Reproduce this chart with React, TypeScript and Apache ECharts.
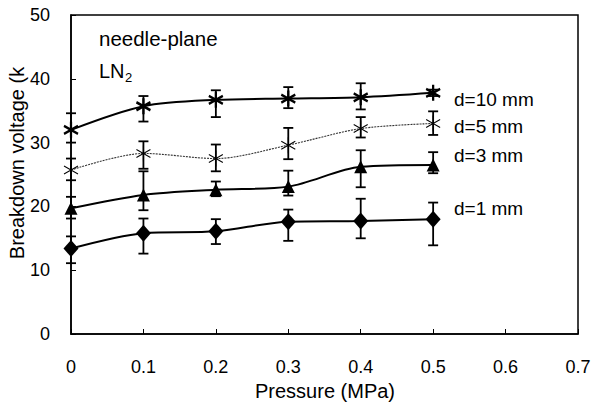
import React, { useEffect, useRef } from "react";
import * as echarts from "echarts";

const pressure = [0, 0.1, 0.2, 0.3, 0.4, 0.5];
const xTicks = [0, 0.1, 0.2, 0.3, 0.4, 0.5, 0.6, 0.7];

const d10 = [32.0, 35.7, 36.7, 36.9, 37.1, 37.8];
const d10Lo = [30.0, 33.3, 34.0, 35.4, 35.2, 37.3];
const d10Hi = [34.6, 37.3, 38.2, 38.7, 39.3, 38.3];

const d5 = [25.7, 28.3, 27.5, 29.6, 32.2, 33.0];
const d5Lo = [24.1, 25.9, 25.5, 27.4, 30.8, 31.2];
const d5Hi = [27.5, 30.2, 29.7, 32.3, 34.0, 34.9];

const d3 = [19.7, 21.8, 22.6, 23.1, 26.2, 26.5];
const d3Lo = [18.1, 19.4, 21.6, 21.7, 23.0, 25.2];
const d3Hi = [21.5, 25.5, 23.9, 25.6, 28.8, 28.5];

const d1 = [13.4, 15.8, 16.1, 17.6, 17.7, 18.0];
const d1Lo = [11.1, 12.6, 14.1, 14.6, 15.0, 13.9];
const d1Hi = [15.3, 18.1, 18.0, 19.5, 21.2, 20.6];

const seriesNames = ["d=10 mm", "d=5 mm", "d=3 mm", "d=1 mm"];

const FONT = "Liberation Sans, Arial, Helvetica, sans-serif";
const asterisk = "path://M0,-1L0,1M-0.866,-0.5L0.866,0.5M-0.866,0.5L0.866,-0.5";

function pts(ys: number[]) {
  return pressure.map((x, i) => [x, ys[i]]);
}
function errs(lo: number[], hi: number[]) {
  return pressure.map((x, i) => [x, lo[i], hi[i]]);
}

function errSeries(lo: number[], hi: number[]) {
  return {
    type: "custom",
    data: errs(lo, hi),
    encode: { x: 0, y: [1, 2] },
    z: 3,
    silent: true,
    renderItem: (params: any, api: any) => {
      const x = api.value(0);
      const p1 = api.coord([x, api.value(1)]);
      const p2 = api.coord([x, api.value(2)]);
      const w = 5;
      const st = { stroke: "#000", lineWidth: 1.8 };
      return {
        type: "group",
        children: [
          { type: "line", shape: { x1: p1[0], y1: p1[1], x2: p2[0], y2: p2[1] }, style: st },
          { type: "line", shape: { x1: p1[0] - w, y1: p1[1], x2: p1[0] + w, y2: p1[1] }, style: st },
          { type: "line", shape: { x1: p2[0] - w, y1: p2[1], x2: p2[0] + w, y2: p2[1] }, style: st },
        ],
      };
    },
  };
}

export default function App() {
  const ref = useRef<HTMLDivElement>(null);
  useEffect(() => {
    if (!ref.current) return;
    const chart = echarts.init(ref.current, undefined, { renderer: "svg" });
    const labelStyle = { fontFamily: FONT, fontSize: 19, fill: "#000", align: "left", verticalAlign: "middle" };
    chart.setOption({
      animation: false,
      backgroundColor: "#fff",
      textStyle: { fontFamily: FONT, color: "#000" },
      grid: {
        left: 71,
        right: 19,
        top: 15,
        bottom: 73,
        show: true,
        borderColor: "#000",
        borderWidth: 1.5,
        backgroundColor: "transparent",
      },
      xAxis: {
        type: "value",
        min: 0,
        max: 0.7,
        interval: 0.1,
        axisLine: { lineStyle: { color: "#000", width: 1.5 } },
        axisTick: { inside: true, length: 5, lineStyle: { color: "#000", width: 1 } },
        splitLine: { show: false },
        axisLabel: {
          margin: 24,
          fontSize: 18,
          fontFamily: FONT,
          color: "#000",
          formatter: (v: number) => {
            const t = xTicks.find((k) => Math.abs(k - v) < 1e-6);
            return t === undefined ? "" : String(t);
          },
        },
      },
      yAxis: {
        type: "value",
        min: 0,
        max: 50,
        interval: 10,
        axisLine: { show: true, lineStyle: { color: "#000", width: 1.5 } },
        axisTick: { show: true, inside: true, length: 5, lineStyle: { color: "#000", width: 1 } },
        splitLine: { show: false },
        axisLabel: { margin: 21, fontSize: 18, fontFamily: FONT, color: "#000" },
      },
      series: [
        errSeries(d10Lo, d10Hi),
        errSeries(d5Lo, d5Hi),
        errSeries(d3Lo, d3Hi),
        errSeries(d1Lo, d1Hi),
        {
          name: seriesNames[0],
          type: "line",
          data: pts(d10),
          smooth: 0.3,
          symbol: asterisk,
          symbolSize: [14, 16],
          itemStyle: { color: "none", borderColor: "#000", borderWidth: 2.4 },
          lineStyle: { color: "#000", width: 2 },
          z: 4,
        },
        {
          name: seriesNames[1],
          type: "line",
          data: pts(d5),
          smooth: 0.3,
          symbol: asterisk,
          symbolSize: [14, 16],
          itemStyle: { color: "none", borderColor: "#000", borderWidth: 1.1 },
          lineStyle: { color: "#333", width: 1.1, type: [2, 1] },
          z: 4,
        },
        {
          name: seriesNames[2],
          type: "line",
          data: pts(d3),
          smooth: 0.3,
          symbol: "triangle",
          symbolSize: [13, 13],
          itemStyle: { color: "#000" },
          lineStyle: { color: "#000", width: 2 },
          z: 4,
        },
        {
          name: seriesNames[3],
          type: "line",
          data: pts(d1),
          smooth: 0.3,
          symbol: "diamond",
          symbolSize: [15, 17],
          itemStyle: { color: "#000" },
          lineStyle: { color: "#000", width: 2 },
          z: 4,
        },
      ],
      graphic: [
        {
          type: "text",
          x: 17,
          y: 163,
          rotation: Math.PI / 2,
          style: {
            text: "Breakdown voltage (k",
            fontFamily: FONT,
            fontSize: 20,
            fill: "#000",
            align: "center",
            verticalAlign: "middle",
          },
        },
        {
          type: "text",
          x: 325,
          y: 391,
          style: { text: "Pressure (MPa)", fontFamily: FONT, fontSize: 20, fill: "#000", align: "center", verticalAlign: "middle" },
        },
        {
          type: "text",
          x: 99,
          y: 38,
          style: { text: "needle-plane", fontFamily: FONT, fontSize: 20.5, fill: "#000", align: "left", verticalAlign: "middle" },
        },
        {
          type: "text",
          x: 99,
          y: 71,
          style: { text: "LN", fontFamily: FONT, fontSize: 20, fill: "#000", align: "left", verticalAlign: "middle" },
        },
        {
          type: "text",
          x: 125,
          y: 77,
          style: { text: "2", fontFamily: FONT, fontSize: 13, fill: "#000", align: "left", verticalAlign: "middle" },
        },
        { type: "text", x: 454, y: 99, style: { text: seriesNames[0], ...labelStyle } },
        { type: "text", x: 454, y: 126, style: { text: seriesNames[1], ...labelStyle } },
        { type: "text", x: 454, y: 155, style: { text: seriesNames[2], ...labelStyle } },
        { type: "text", x: 454, y: 208, style: { text: seriesNames[3], ...labelStyle } },
      ],
    });
    return () => chart.dispose();
  }, []);
  return <div ref={ref} style={{ width: 597, height: 407, position: "absolute", left: 0, top: 0 }} />;
}
